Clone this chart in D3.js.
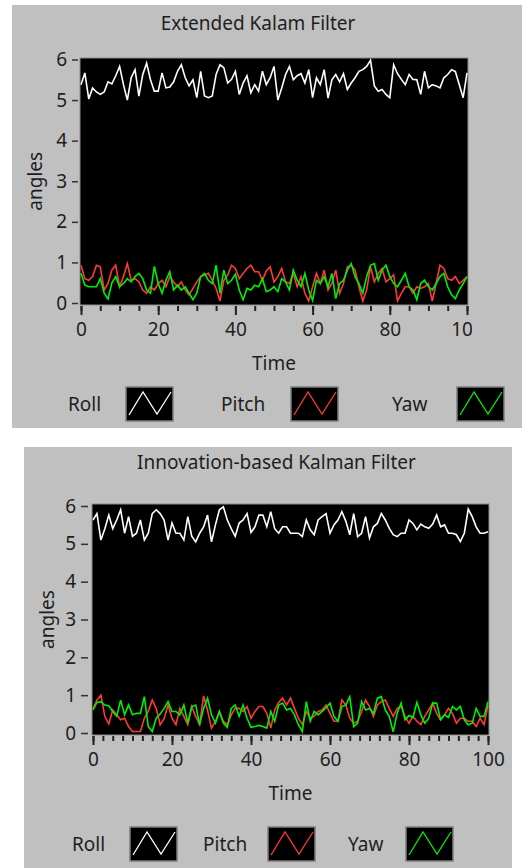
<html>
<head>
  <title></title>
  <script src="https://cdn.jsdelivr.net/npm/d3@7"></script>
<style type="text/css">
body { margin: 0; background: #fff; }
text { font-family: "Noto Sans", sans-serif; fill: #1e1e1e; }
</style>
</head>
<body>
<script type="text/javascript">
// series, one value per time step 0..100
var ekfRoll = [5.38,5.67,5.03,5.3,5.2,5.14,5.2,5.45,5.4,5.6,
  5.83,5.38,5.0,5.55,5.75,5.1,5.63,5.91,5.5,5.22,
  5.22,5.67,5.30,5.32,5.45,5.71,5.87,5.55,5.35,5.5,
  5.06,5.71,5.1,5.06,5.10,5.63,5.87,5.8,5.42,5.51,
  5.71,5.14,5.42,5.6,5.18,5.38,5.22,5.71,5.38,5.55,
  5.83,5.0,5.3,5.63,5.83,5.5,5.6,5.65,5.42,5.75,
  5.06,5.55,5.38,5.75,5.05,5.5,5.63,5.45,5.65,5.26,
  5.42,5.55,5.71,5.75,5.83,5.98,5.35,5.22,5.26,5.14,
  5.06,5.87,5.65,5.51,5.38,5.63,5.51,5.5,5.14,5.71,
  5.3,5.38,5.35,5.3,5.55,5.63,5.75,5.7,5.38,5.06,5.67];
var ekfPitch = [0.93,0.60,0.56,0.65,0.93,0.89,0.32,0.48,0.81,0.93,
  0.40,0.65,0.97,0.56,0.60,0.52,0.32,0.24,0.40,0.32,
  0.48,0.56,0.40,0.65,0.52,0.40,0.52,0.32,0.20,0.36,
  0.52,0.65,0.69,0.73,0.56,0.36,0.05,0.56,0.69,0.93,
  0.85,0.60,0.73,0.85,0.93,0.77,0.77,0.56,0.79,0.89,
  0.52,0.65,0.85,0.52,0.48,0.73,0.40,0.65,0.24,0.05,
  0.40,0.73,0.48,0.81,0.32,0.48,0.81,0.24,0.48,0.89,
  0.93,0.81,0.40,0.05,0.32,0.89,0.52,0.73,0.85,0.52,
  0.60,0.69,0.05,0.24,0.40,0.40,0.24,0.40,0.36,0.40,
  0.48,0.05,0.48,0.93,0.85,0.60,0.56,0.65,0.48,0.56,0.65];
var ekfYaw = [0.73,0.44,0.40,0.40,0.40,0.60,0.24,0.10,0.50,0.65,
  0.40,0.48,0.60,0.52,0.65,0.73,0.60,0.32,0.24,0.90,
  0.48,0.24,0.56,0.77,0.32,0.44,0.32,0.40,0.24,0.08,
  0.24,0.65,0.73,0.56,0.48,0.93,0.24,0.81,0.48,0.56,
  0.71,0.32,0.08,0.36,0.32,0.44,0.40,0.60,0.28,0.32,
  0.40,0.28,0.60,0.52,0.32,0.81,0.56,0.40,0.73,0.32,
  0.06,0.56,0.48,0.65,0.40,0.73,0.11,0.48,0.56,0.81,
  0.97,0.65,0.48,0.24,0.65,0.93,0.97,0.56,0.81,0.93,
  0.65,0.48,0.40,0.56,0.73,0.40,0.32,0.08,0.48,0.56,
  0.40,0.32,0.48,0.65,0.73,0.40,0.20,0.11,0.32,0.48,0.65];

var ikfRoll = [5.63,5.8,5.1,5.4,5.76,5.4,5.63,5.9,5.28,5.72,
  5.2,5.28,5.63,5.1,5.28,5.8,5.9,5.8,5.63,5.1,
  5.55,5.28,5.28,5.1,5.72,5.2,5.05,5.28,5.45,5.76,
  5.05,5.5,5.9,5.98,5.63,5.4,5.2,5.55,5.63,5.8,
  5.3,5.45,5.76,5.76,5.45,5.85,5.4,5.28,5.45,5.45,
  5.28,5.28,5.28,5.19,5.63,5.37,5.24,5.63,5.72,5.80,
  5.28,5.5,5.63,5.85,5.6,5.24,5.8,5.19,5.28,5.72,
  5.15,5.45,5.54,5.8,5.63,5.41,5.24,5.19,5.28,5.28,
  5.63,5.54,5.37,5.52,5.45,5.41,5.52,5.76,5.45,5.5,
  5.28,5.28,5.24,5.06,5.28,5.92,5.72,5.45,5.28,5.28,5.32];
var ikfPitch = [0.64,0.87,1.0,0.44,0.24,0.61,0.48,0.35,0.39,0.17,
  0.04,0.04,0.04,0.39,0.58,0.87,0.65,0.22,0.38,0.74,
  0.39,0.22,0.65,0.44,0.22,0.70,0.44,0.22,0.98,0.60,
  0.13,0.31,0.57,0.31,0.22,0.48,0.65,0.65,0.57,0.70,
  0.39,0.57,0.70,0.70,0.52,0.13,0.61,0.81,0.92,0.74,
  0.92,0.65,0.39,0.22,0.57,0.39,0.44,0.57,0.61,0.74,
  0.52,0.31,0.31,0.87,0.74,0.39,0.26,0.31,0.57,0.87,
  0.70,0.44,0.74,0.83,0.87,0.65,0.44,0.65,0.70,0.44,
  0.26,0.44,0.31,0.22,0.44,0.61,0.79,0.52,0.35,0.48,
  0.65,0.52,0.26,0.39,0.39,0.31,0.31,0.17,0.39,0.22,0.74];
var ikfYaw = [0.61,0.81,0.83,0.74,0.72,0.57,0.44,0.87,0.48,0.74,
  0.48,0.52,0.52,0.96,0.17,0.04,0.39,0.50,0.65,0.83,
  0.57,0.57,0.48,0.74,0.26,0.70,0.74,0.22,0.65,0.92,
  0.48,0.26,0.57,0.26,0.15,0.65,0.74,0.44,0.74,0.39,
  0.15,0.17,0.20,0.17,0.13,0.57,0.31,0.74,0.79,0.61,
  0.65,0.48,0.22,0.04,0.83,0.31,0.57,0.48,0.57,0.67,
  0.79,0.44,0.31,0.70,0.74,0.96,0.17,0.26,0.83,0.61,
  0.65,0.52,0.92,0.96,0.61,0.44,0.03,0.52,0.79,0.35,
  0.46,0.41,0.81,0.48,0.26,0.39,0.79,0.79,0.35,0.48,
  0.41,0.70,0.61,0.70,0.35,0.22,0.26,0.65,0.44,0.44,0.83];

var seriesNames = ["Roll", "Pitch", "Yaw"];
var seriesColors = ["#ffffff", "#ff3a3a", "#00f000"];
var yTicks = [0, 1, 2, 3, 4, 5, 6];
var xTicks = [0, 20, 40, 60, 80, 100];

var W = 525, H = 868;
var svg = d3.select('body').append('svg')
  .attr('width', W).attr('height', H);

var panels = [
  { title: "Extended Kalam Filter", data: [ekfRoll, ekfPitch, ekfYaw], minorStep: 5,
    box: [12, 5, 510, 423], frame: [80, 58, 388, 247], xr: [81, 467], yr: [303, 59.5],
    yAxisX: 78, yTick: 6, xAxisY: 306, titleY: 30, angX: 35, timeY: 370,
    labClip: 472, legY: 387, legText: [68, 221, 392], legBox: [126, 291, 457] },
  { title: "Innovation-based Kalman Filter", data: [ikfRoll, ikfPitch, ikfYaw], minorStep: 2.5,
    box: [24, 447, 488, 421], frame: [92, 504, 397, 231], xr: [93, 488], yr: [733, 506],
    yAxisX: 88, yTick: 7, xAxisY: 736, titleY: 469, angX: 47, timeY: 800,
    labClip: 600, legY: 827, legText: [72, 203, 348], legBox: [130, 268, 406] }
];

panels.forEach(function(p, pi) {
  var g = svg.append('g');
  g.append('rect')
    .attr('x', p.box[0]).attr('y', p.box[1])
    .attr('width', p.box[2]).attr('height', p.box[3])
    .attr('fill', '#c0c0c0');

  var cx = (p.xr[0] + p.xr[1]) / 2;
  g.append('text').text(p.title)
    .attr('x', cx - 16 + pi * 2).attr('y', p.titleY)
    .attr('text-anchor', 'middle').style('font-size', '19px');

  var x = d3.scaleLinear().domain([0, 100]).range(p.xr);
  var y = d3.scaleLinear().domain([0, 6]).range(p.yr);

  g.append('rect')
    .attr('x', p.frame[0]).attr('y', p.frame[1])
    .attr('width', p.frame[2]).attr('height', p.frame[3])
    .attr('fill', '#000').attr('stroke', '#8c8c8c').attr('stroke-width', 1);

  g.append('clipPath').attr('id', 'plot' + pi)
    .append('rect')
    .attr('x', p.frame[0]).attr('y', p.frame[1])
    .attr('width', p.frame[2]).attr('height', p.frame[3]);

  var line = d3.line()
    .x(function(d, i) { return x(i); })
    .y(function(d) { return y(d); });

  p.data.forEach(function(s, si) {
    g.append('path').datum(s)
      .attr('clip-path', 'url(#plot' + pi + ')')
      .attr('d', line)
      .attr('fill', 'none')
      .attr('stroke', seriesColors[si])
      .attr('stroke-width', 1.6);
  });

  // y axis
  var ya = g.append('g')
    .attr('transform', 'translate(' + p.yAxisX + ',0)')
    .call(d3.axisLeft(y).tickValues(yTicks).tickSize(p.yTick).tickPadding(5).tickFormat(d3.format('d')));
  ya.select('.domain').remove();
  ya.selectAll('line').attr('stroke', '#333').attr('stroke-width', 1.5);
  ya.selectAll('text').style('font-size', '19px').attr('fill', '#1e1e1e').attr('font-family', null);

  // x axis, minor then major ticks
  var minor = d3.range(0, 100.01, p.minorStep);
  var xm = g.append('g')
    .attr('transform', 'translate(0,' + p.xAxisY + ')')
    .call(d3.axisBottom(x).tickValues(minor).tickSize(5).tickFormat(''));
  xm.select('.domain').remove();
  xm.selectAll('line').attr('stroke', '#222').attr('stroke-width', 2);

  // the first chart cuts its last label down to "10"; clip is in the axis group's own coords
  g.append('clipPath').attr('id', 'lab' + pi)
    .append('rect').attr('x', 0).attr('y', -2)
    .attr('width', p.labClip).attr('height', 45);

  var xa = g.append('g')
    .attr('transform', 'translate(0,' + p.xAxisY + ')')
    .attr('clip-path', 'url(#lab' + pi + ')')
    .call(d3.axisBottom(x).tickValues(xTicks).tickSize(9).tickPadding(8).tickFormat(d3.format('d')));
  xa.select('.domain').remove();
  xa.selectAll('line').attr('stroke', '#222').attr('stroke-width', 2);
  xa.selectAll('text').style('font-size', '19px').attr('fill', '#1e1e1e').attr('font-family', null);

  g.append('text').text('Time')
    .attr('x', cx).attr('y', p.timeY)
    .attr('text-anchor', 'middle').style('font-size', '19px');

  var cy = (p.yr[0] + p.yr[1]) / 2;
  g.append('text').text('angles')
    .attr('transform', 'translate(' + (p.angX + 7) + ',' + cy + ') rotate(-90)')
    .attr('text-anchor', 'middle').style('font-size', '19px');

  // legend
  var glyph = d3.line();
  seriesNames.forEach(function(name, si) {
    g.append('text').text(name)
      .attr('x', p.legText[si]).attr('y', p.legY + 24)
      .style('font-size', '19px');
    var bx = p.legBox[si], by = p.legY;
    g.append('rect')
      .attr('x', bx).attr('y', by).attr('width', 47).attr('height', 34)
      .attr('fill', '#000').attr('stroke', '#7d7d7d').attr('stroke-width', 1.5);
    g.append('path')
      .attr('d', glyph([[bx + 3, by + 28], [bx + 17, by + 5], [bx + 31, by + 27], [bx + 45, by + 5]]))
      .attr('fill', 'none').attr('stroke', seriesColors[si]).attr('stroke-width', 1.3);
  });
});
</script>
</body>
</html>
